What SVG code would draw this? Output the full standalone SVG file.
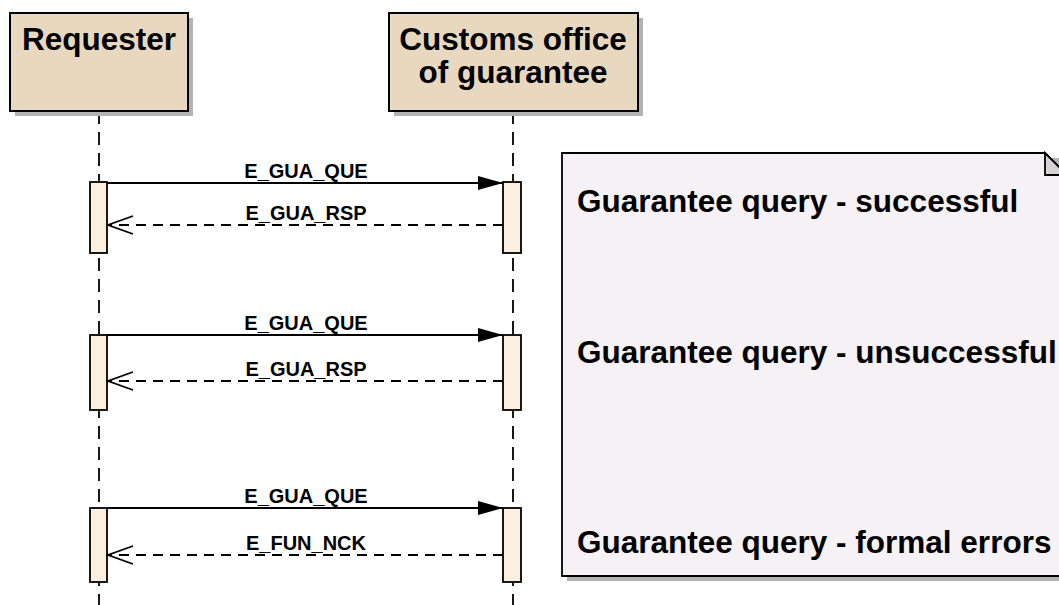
<svg xmlns="http://www.w3.org/2000/svg" width="1059" height="605" viewBox="0 0 1059 605">
<defs>
<style>
.hdr{fill:#e8d8bf;stroke:#000;stroke-width:2}
.shd{fill:#b3b3b3}
.ht{font-family:"Liberation Sans",Arial,sans-serif;font-weight:bold;font-size:31.5px;fill:#000;text-anchor:middle}
.life{stroke:#000;stroke-width:1.8;stroke-dasharray:13 8;fill:none}
.act{fill:#fbf0e0;stroke:#000;stroke-width:1.8}
.msg{stroke:#000;stroke-width:1.8;fill:none}
.ret{stroke:#000;stroke-width:1.8;fill:none;stroke-dasharray:10 7}
.ml{font-family:"Liberation Sans",Arial,sans-serif;font-weight:bold;font-size:20px;fill:#000;text-anchor:middle}
.nt{font-family:"Liberation Sans",Arial,sans-serif;font-weight:bold;font-size:31.5px;fill:#000}
.note{fill:#f5f1f5;stroke:#000;stroke-width:1.8}
.fold{fill:#d6d2d6;stroke:#000;stroke-width:1.8}
</style>
<marker id="filled" markerWidth="26" markerHeight="16" refX="25" refY="8" orient="auto" markerUnits="userSpaceOnUse">
<path d="M0,1 L25,8 L0,15 Z" fill="#000"/>
</marker>
<marker id="open" markerWidth="28" markerHeight="22" refX="26" refY="11" orient="auto" markerUnits="userSpaceOnUse">
<path d="M1,2 L26,11 L1,20" fill="none" stroke="#000" stroke-width="1.8"/>
</marker>
</defs>
<rect width="1059" height="605" fill="#fff"/>

<g id="lifelines">
<line class="life" x1="99" y1="111" x2="99" y2="605"/>
<line class="life" x1="513" y1="111" x2="513" y2="605"/>
</g>

<g id="requester">
<rect class="shd" x="15" y="18" width="178" height="98"/>
<rect class="hdr" x="10" y="13" width="178" height="98"/>
<text class="ht" x="99" y="50">Requester</text>
</g>

<g id="customs">
<rect class="shd" x="394" y="18" width="249" height="98"/>
<rect class="hdr" x="389" y="13" width="249" height="98"/>
<text class="ht" x="513" y="50">Customs office</text>
<text class="ht" x="513" y="83">of guarantee</text>
</g>

<g id="note">
<path class="shd" d="M567,158 H1072 V581 H567 Z"/>
<path class="note" d="M562,153 H1045 L1067,175 V576 H562 Z"/>
<path class="fold" d="M1045,153 L1067,175 H1045 Z"/>
<text class="nt" x="577" y="212">Guarantee query - successful</text>
<text class="nt" x="577" y="363">Guarantee query - unsuccessful</text>
<text class="nt" x="577" y="553">Guarantee query - formal errors</text>
</g>

<g id="activations">
<rect class="act" x="90" y="182" width="17" height="71"/>
<rect class="act" x="503" y="182" width="18" height="71"/>
<rect class="act" x="90" y="335" width="17" height="75"/>
<rect class="act" x="503" y="335" width="18" height="75"/>
<rect class="act" x="90" y="508" width="17" height="74"/>
<rect class="act" x="503" y="508" width="18" height="74"/>
</g>

<g id="connectors">
<line class="msg" x1="107" y1="183" x2="503" y2="183" marker-end="url(#filled)"/>
<text class="ml" x="306" y="178">E_GUA_QUE</text>
<line class="ret" x1="503" y1="225" x2="108" y2="225" marker-end="url(#open)"/>
<text class="ml" x="306" y="220">E_GUA_RSP</text>

<line class="msg" x1="107" y1="335" x2="503" y2="335" marker-end="url(#filled)"/>
<text class="ml" x="306" y="330">E_GUA_QUE</text>
<line class="ret" x1="503" y1="381" x2="108" y2="381" marker-end="url(#open)"/>
<text class="ml" x="306" y="376">E_GUA_RSP</text>

<line class="msg" x1="107" y1="508" x2="503" y2="508" marker-end="url(#filled)"/>
<text class="ml" x="306" y="503">E_GUA_QUE</text>
<line class="ret" x1="503" y1="555" x2="108" y2="555" marker-end="url(#open)"/>
<text class="ml" x="306" y="550">E_FUN_NCK</text>
</g>
</svg>
